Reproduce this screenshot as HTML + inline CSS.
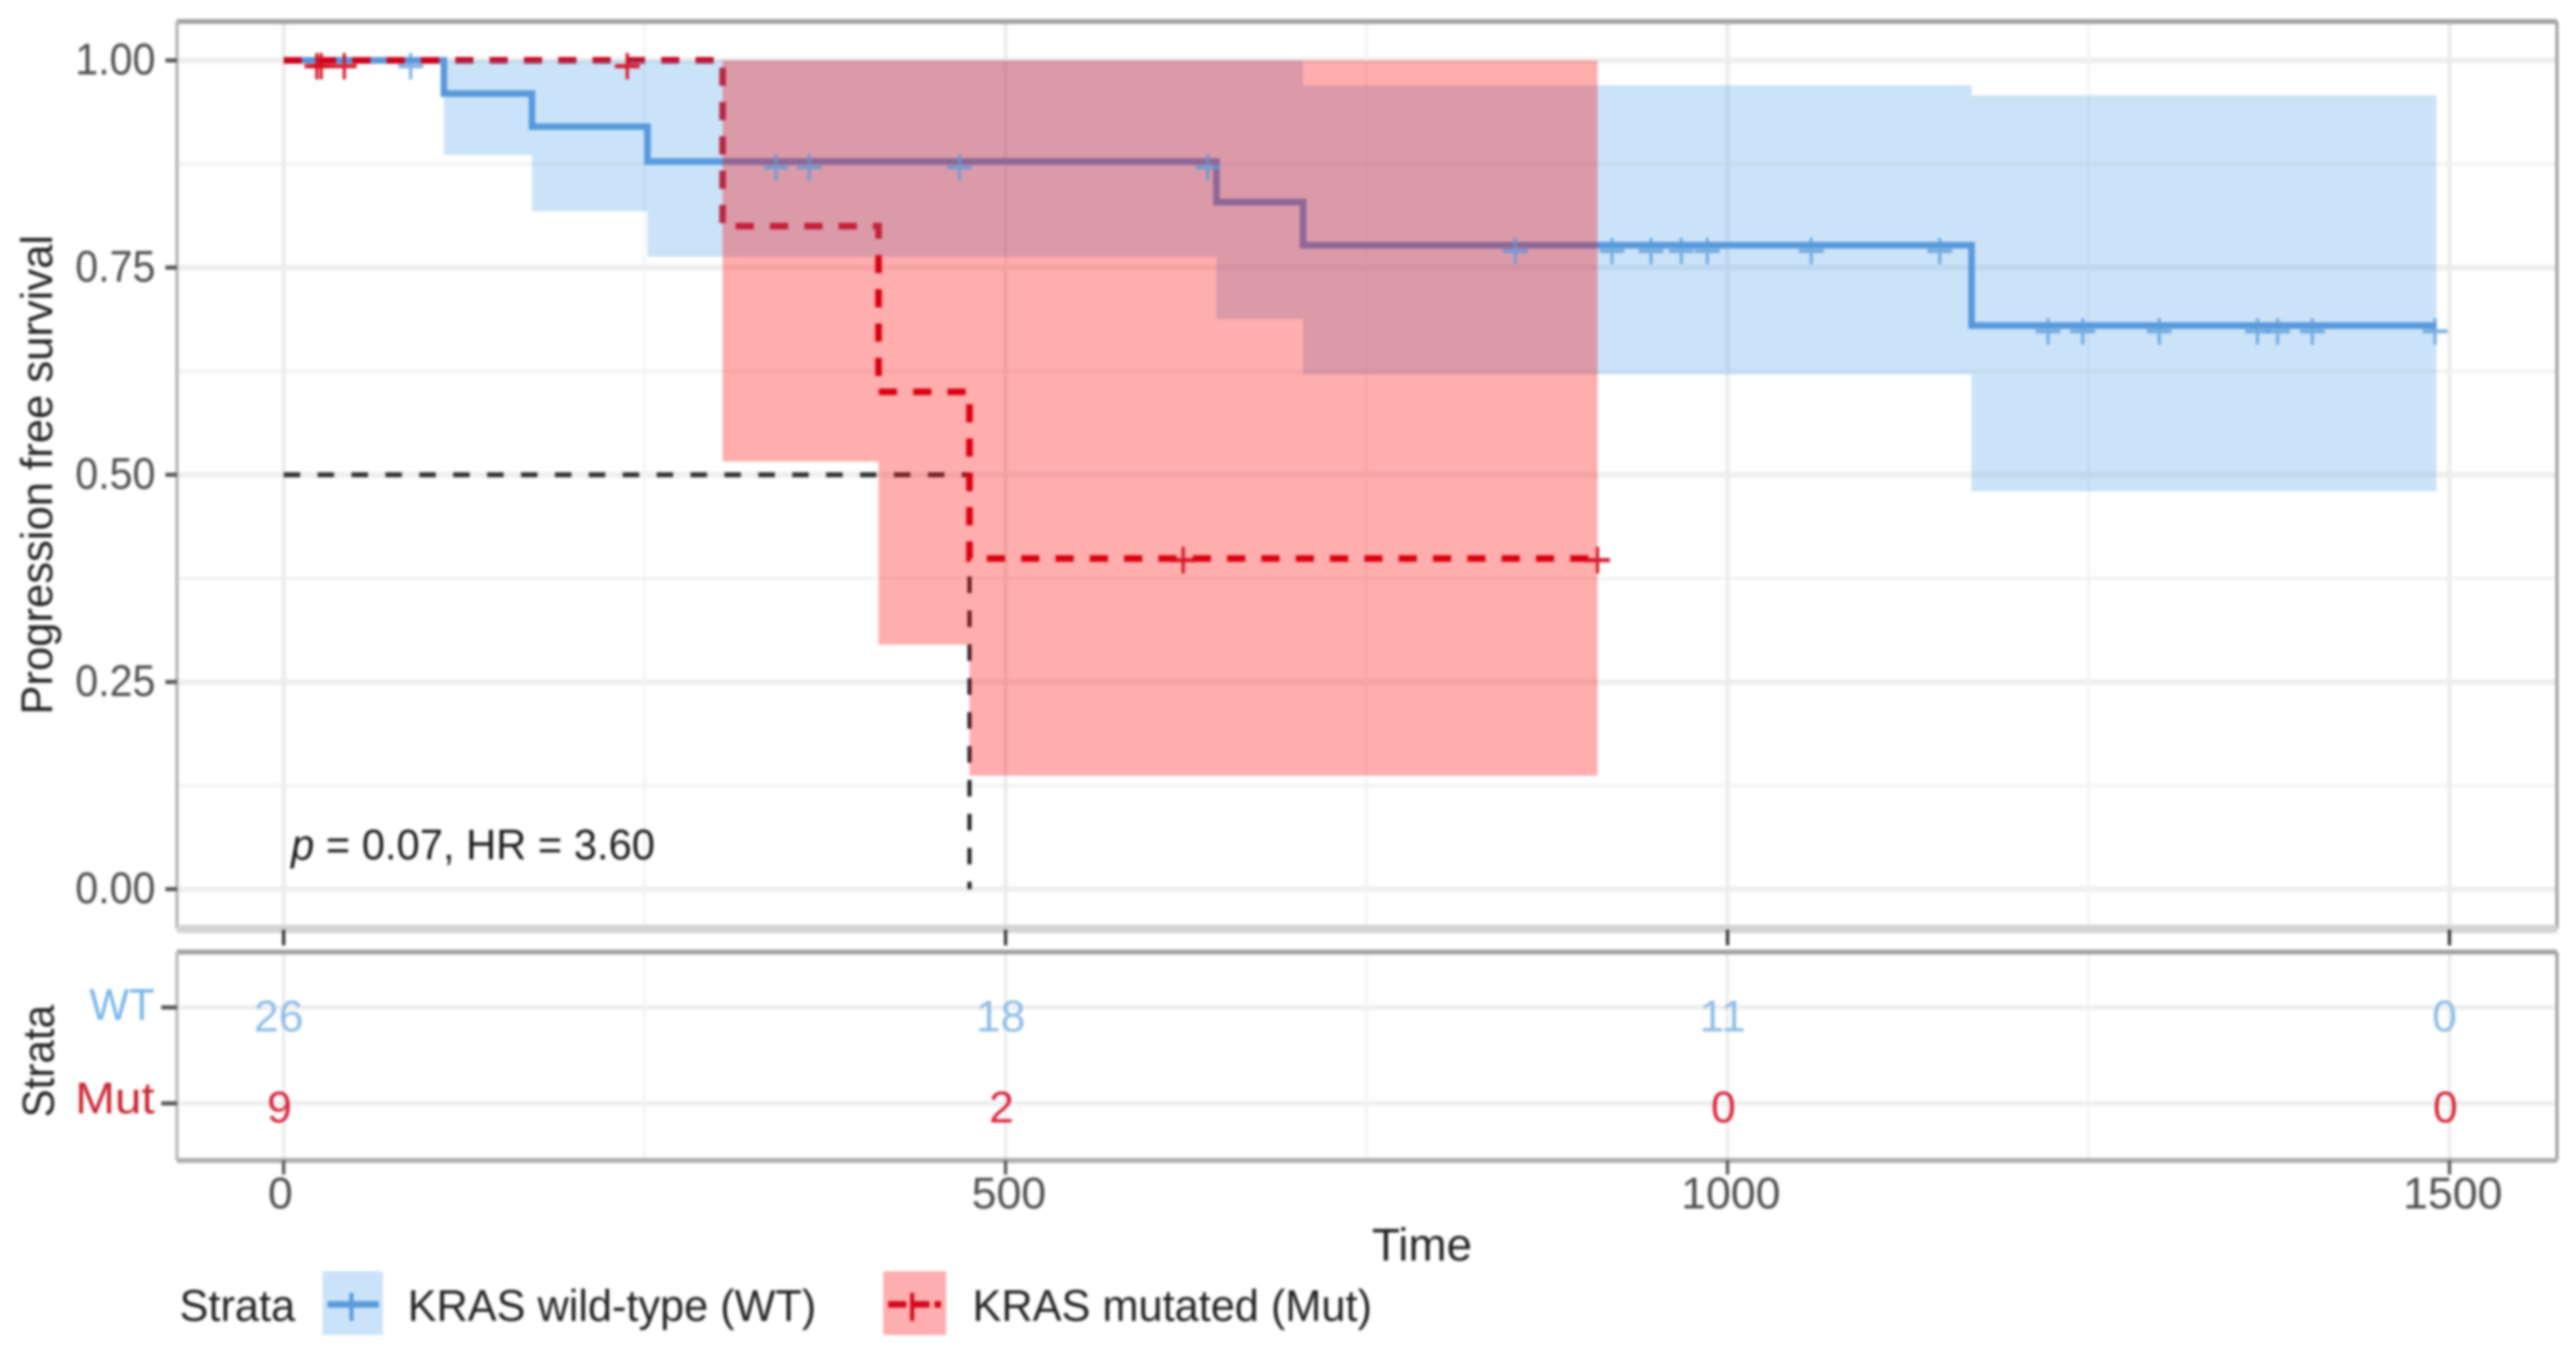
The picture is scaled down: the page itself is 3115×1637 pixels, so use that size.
<!DOCTYPE html>
<html lang="en">
<head>
<meta charset="utf-8">
<title>Progression free survival by KRAS status</title>
<style>
  html, body { margin: 0; padding: 0; background: #fff; width: 3115px; height: 1637px; overflow: hidden; }
  svg { display: block; filter: blur(1.7px); font-family: "Liberation Sans", sans-serif; }
</style>
</head>
<body>
<svg id="chart" xmlns="http://www.w3.org/2000/svg" width="3115" height="1637" viewBox="0 0 3115 1637">
  <rect x="0" y="0" width="3115" height="1637" fill="#ffffff"/>
  <g id="grid"></g>
  <g id="marks"></g>
  <g id="axes"></g>

  <text x="352" y="1039" font-size="52" fill="#1a1a1a" textLength="440" lengthAdjust="spacingAndGlyphs"><tspan font-style="italic">p</tspan> = 0.07, HR = 3.60</text>

  <text transform="translate(63,864) rotate(-90)" font-size="54" fill="#222222" textLength="580" lengthAdjust="spacingAndGlyphs">Progression free survival</text>
  <text transform="translate(65,1351) rotate(-90)" font-size="54" fill="#222222" textLength="136" lengthAdjust="spacingAndGlyphs">Strata</text>
  <text x="108" y="1233" font-size="54" fill="#7ab5e8" textLength="79" lengthAdjust="spacingAndGlyphs">WT</text>
  <text x="91" y="1346" font-size="54" fill="#c8242f" textLength="96" lengthAdjust="spacingAndGlyphs">Mut</text>
  <text x="1659" y="1524" font-size="56" fill="#222222" textLength="121" lengthAdjust="spacingAndGlyphs">Time</text>

  <g>
    <text x="217" y="1597" font-size="54" fill="#222222" textLength="140" lengthAdjust="spacingAndGlyphs">Strata</text>
    <g>
      <rect x="390" y="1537" width="73" height="77" fill="#cbe3f8"/>
      <line x1="396" y1="1577" x2="458" y2="1577" stroke="#5a9bdb" stroke-width="8"/>
      <line x1="425" y1="1563" x2="425" y2="1597" stroke="#5a9bdb" stroke-width="5"/>
      <text x="493" y="1597" font-size="54" fill="#222222" textLength="494" lengthAdjust="spacingAndGlyphs">KRAS wild-type (WT)</text>
    </g>
    <g>
      <rect x="1068" y="1537" width="76" height="77" fill="#ffaeb0"/>
      <line x1="1074" y1="1577" x2="1138" y2="1577" stroke="#d40a1c" stroke-width="8" stroke-dasharray="22 6"/>
      <line x1="1103" y1="1563" x2="1103" y2="1597" stroke="#d40a1c" stroke-width="5"/>
      <text x="1176" y="1597" font-size="54" fill="#222222" textLength="483" lengthAdjust="spacingAndGlyphs">KRAS mutated (Mut)</text>
    </g>
  </g>
</svg>
<script>
// ---- chart data ----
const xTickValues = [0, 500, 1000, 1500];
const xMinorValues = [250, 750, 1250];
const yTickValues = [0, 0.25, 0.5, 0.75, 1];
const yTickLabels = ["0.00", "0.25", "0.50", "0.75", "1.00"];
const yMinorValues = [0.125, 0.375, 0.625, 0.875];

const wtTimes = [0, 111, 172, 252, 646, 706, 1169, 1491];
const wtSurv  = [1, 0.96, 0.92, 0.878, 0.829, 0.777, 0.68, 0.68];
const wtUpper = [1, 1, 1, 1, 1, 0.97, 0.958, 0.958];
const wtLower = [1, 0.886, 0.818, 0.763, 0.688, 0.621, 0.48, 0.48];
const wtCensor = [88, 341, 364, 468, 640, 853, 920, 947, 968, 986, 1058, 1147, 1222, 1246, 1299, 1367, 1381, 1405, 1490];

const mutTimes = [0, 304, 412, 475, 910];
const mutSurv  = [1, 0.8, 0.6, 0.399, 0.399];
const mutUpper = [1, 1, 1, 1, 1];
const mutLower = [1, 0.516, 0.295, 0.137, 0.137];
const mutCensor = [23, 26, 42, 238, 623, 910];

const medianTime = 475;
const medianSurv = 0.5;

const wtAtRisk = [26, 18, 11, 0];
const mutAtRisk = [9, 2, 0, 0];

// ---- axis functions ----
function xScale(t) { return 343 + 1.746 * t; }
function yScale(s) { return 1075 - 1002 * s; }

const SVG_NS = "http://www.w3.org/2000/svg";
const gridLayer = document.getElementById("grid");
const marksLayer = document.getElementById("marks");
const axesLayer = document.getElementById("axes");

const PANEL = { left: 214, right: 3092, top: 26, bottom: 1123 };
const TABLE = { left: 214, right: 3092, top: 1151, bottom: 1403 };
const ROW_WT = 1218;
const ROW_MUT = 1334;

function makeLine(x1, y1, x2, y2, stroke, width) {
  const l = document.createElementNS(SVG_NS, "line");
  l.setAttribute("x1", x1);
  l.setAttribute("y1", y1);
  l.setAttribute("x2", x2);
  l.setAttribute("y2", y2);
  l.setAttribute("stroke", stroke);
  l.setAttribute("stroke-width", width);
  return l;
}

function makeText(str, x, y, fill, anchor) {
  const t = document.createElementNS(SVG_NS, "text");
  t.setAttribute("x", x);
  t.setAttribute("y", y);
  t.setAttribute("fill", fill);
  t.setAttribute("font-size", "54");
  t.setAttribute("text-anchor", anchor);
  t.textContent = str;
  return t;
}

function stepLinePath(times, surv) {
  let d = "M" + xScale(times[0]) + " " + yScale(surv[0]);
  for (let i = 1; i < times.length; i++) {
    d += "H" + xScale(times[i]) + "V" + yScale(surv[i]);
  }
  return d;
}

function ribbonPath(times, upper, lower) {
  const n = times.length;
  let d = "M" + xScale(times[0]) + " " + yScale(upper[0]);
  for (let i = 1; i < n; i++) {
    d += "H" + xScale(times[i]) + "V" + yScale(upper[i]);
  }
  d += "V" + yScale(lower[n - 1]);
  for (let i = n - 2; i >= 0; i--) {
    d += "V" + yScale(lower[i]) + "H" + xScale(times[i]);
  }
  return d + "Z";
}

function survivalAt(times, surv, t) {
  let s = surv[0];
  for (let i = 0; i < times.length; i++) {
    if (times[i] <= t) s = surv[i];
  }
  return s;
}

// ---- grid ----
yTickValues.forEach(function (v) {
  const l = makeLine(PANEL.left, yScale(v), PANEL.right, yScale(v), "#efefef", 7);
  
  
  gridLayer.appendChild(l);
});
yMinorValues.forEach(function (v) {
  const l = makeLine(PANEL.left, yScale(v), PANEL.right, yScale(v), "#f3f3f3", 4);
  
  
  gridLayer.appendChild(l);
});
[ROW_WT, ROW_MUT].forEach(function (y) {
  const l = makeLine(TABLE.left, y, TABLE.right, y, "#efefef", 6);
  
  
  gridLayer.appendChild(l);
});
xTickValues.forEach(function (v) {
  const a = makeLine(xScale(v), PANEL.top, xScale(v), PANEL.bottom, "#ececec", 5);
  
  
  gridLayer.appendChild(a);
  const b = makeLine(xScale(v), TABLE.top, xScale(v), TABLE.bottom, "#ececec", 4);
  
  
  gridLayer.appendChild(b);
});
xMinorValues.forEach(function (v) {
  const a = makeLine(xScale(v), PANEL.top, xScale(v), PANEL.bottom, "#f3f3f3", 3);
  
  
  gridLayer.appendChild(a);
  const b = makeLine(xScale(v), TABLE.top, xScale(v), TABLE.bottom, "#f3f3f3", 3);
  
  
  gridLayer.appendChild(b);
});

// ---- median reference lines ----
const medianH = makeLine(xScale(0), yScale(medianSurv), xScale(medianTime), yScale(medianSurv), "#333333", 6);
medianH.setAttribute("stroke-dasharray", "20 21");


marksLayer.appendChild(medianH);

const medianV = makeLine(xScale(medianTime), yScale(medianSurv), xScale(medianTime), yScale(0), "#222222", 5);
medianV.setAttribute("stroke-dasharray", "20 21");


marksLayer.appendChild(medianV);

// ---- survival curves (under the ribbons) ----
const wtLine = document.createElementNS(SVG_NS, "path");
wtLine.setAttribute("d", stepLinePath(wtTimes, wtSurv));
wtLine.setAttribute("fill", "none");
wtLine.setAttribute("stroke", "#5a96d8");
wtLine.setAttribute("stroke-width", "8");


marksLayer.appendChild(wtLine);

const mutLine = document.createElementNS(SVG_NS, "path");
mutLine.setAttribute("d", stepLinePath(mutTimes, mutSurv));
mutLine.setAttribute("fill", "none");
mutLine.setAttribute("stroke", "#cc0018");
mutLine.setAttribute("stroke-width", "8");
mutLine.setAttribute("stroke-dasharray", "22 19.5");


marksLayer.appendChild(mutLine);

// ---- confidence ribbons ----
const wtRibbon = document.createElementNS(SVG_NS, "path");
wtRibbon.setAttribute("d", ribbonPath(wtTimes, wtUpper, wtLower));
wtRibbon.setAttribute("fill", "#52a2e8");
wtRibbon.setAttribute("fill-opacity", "0.3");


marksLayer.appendChild(wtRibbon);

const mutRibbon = document.createElementNS(SVG_NS, "path");
mutRibbon.setAttribute("d", ribbonPath(mutTimes, mutUpper, mutLower));
mutRibbon.setAttribute("fill", "#ff0000");
mutRibbon.setAttribute("fill-opacity", "0.32");


marksLayer.appendChild(mutRibbon);

// ---- censor marks ----
function drawCensor(t, times, surv, color, opacity, name, drop) {
  const cx = xScale(t);
  const cy = yScale(survivalAt(times, surv, t)) + drop;
  const g = document.createElementNS(SVG_NS, "g");
  g.setAttribute("opacity", opacity);
  
  
  g.appendChild(makeLine(cx - 15, cy, cx + 15, cy, color, 5));
  g.appendChild(makeLine(cx, cy - 16, cx, cy + 16, color, 4));
  marksLayer.appendChild(g);
}
wtCensor.forEach(function (t) {
  drawCensor(t, wtTimes, wtSurv, "#5a9bdb", 0.75, "censor-wt", 7);
});
mutCensor.forEach(function (t) {
  const atTop = survivalAt(mutTimes, mutSurv, t) === 1;
  drawCensor(t, mutTimes, mutSurv, "#d40a1c", 0.9, "censor-mut", atTop ? 7 : 2);
});

// ---- panel borders ----
[
  [PANEL.left, PANEL.top, PANEL.right, PANEL.top, "#a2a2a2", 6, "panel-border-top"],
  [PANEL.right, PANEL.top, PANEL.right, PANEL.bottom, "#a2a2a2", 4, "panel-border-right"],
  [PANEL.left, PANEL.top, PANEL.left, PANEL.bottom, "#b4b4b4", 4, "panel-border-left"],
  [PANEL.left, PANEL.bottom, PANEL.right, PANEL.bottom, "#d4d4d4", 10, "panel-border-bottom"],
  [TABLE.left, TABLE.top, TABLE.right, TABLE.top, "#a2a2a2", 6, "table-border-top"],
  [TABLE.right, TABLE.top, TABLE.right, TABLE.bottom, "#a2a2a2", 4, "table-border-right"],
  [TABLE.left, TABLE.top, TABLE.left, TABLE.bottom, "#bcbcbc", 4, "table-border-left"],
  [TABLE.left, TABLE.bottom, TABLE.right, TABLE.bottom, "#adadad", 6, "table-border-bottom"]
].forEach(function (b) {
  const l = makeLine(b[0], b[1], b[2], b[3], b[4], b[5]);
  
  
  axesLayer.appendChild(l);
});

// ---- y axis ticks ----
yTickValues.forEach(function (v, i) {
  const tick = makeLine(200, yScale(v), 214, yScale(v), "#555555", 5);
  
  
  axesLayer.appendChild(tick);
  const label = makeText(yTickLabels[i], 188, yScale(v) + 17, "#4d4d4d", "end");
  label.setAttribute("textLength", "97");
  label.setAttribute("lengthAdjust", "spacingAndGlyphs");
  
  
  axesLayer.appendChild(label);
});

// ---- x axis ticks ----
xTickValues.forEach(function (v, i) {
  const upperTick = makeLine(xScale(v), 1124, xScale(v), 1143, "#333333", 4);
  
  
  axesLayer.appendChild(upperTick);

  const lowerTick = makeLine(xScale(v), 1403, xScale(v), 1420, "#555555", 4);
  
  
  axesLayer.appendChild(lowerTick);

  const label = makeText(String(v), xScale(v) + (i === 0 ? -4 : 4), 1461, "#4d4d4d", "middle");
  
  
  axesLayer.appendChild(label);

  const wtCount = makeText(String(wtAtRisk[i]), xScale(v) - 6, 1247, "#8ebde8", "middle");
  
  
  axesLayer.appendChild(wtCount);

  const mutCount = makeText(String(mutAtRisk[i]), xScale(v) - 5, 1357, "#d8263a", "middle");
  
  
  axesLayer.appendChild(mutCount);
});

// ---- table row ticks ----
[ROW_WT, ROW_MUT].forEach(function (y) {
  const tick = makeLine(195, y, 214, y, "#555555", 5);
  
  
  axesLayer.appendChild(tick);
});
</script>
</body>
</html>
